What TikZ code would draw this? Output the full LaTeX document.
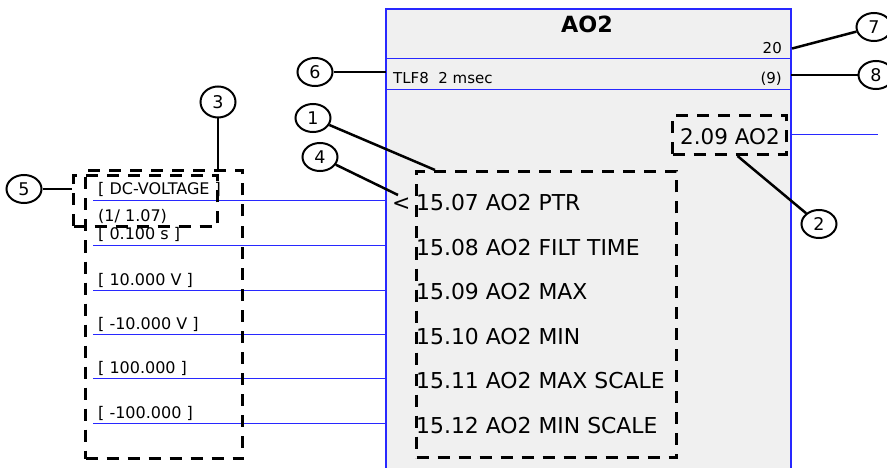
\documentclass[tikz,border=0pt]{standalone}
\usepackage{fontspec}
\setmainfont{DejaVu Sans}
\usetikzlibrary{shapes.geometric}
\definecolor{blockgray}{RGB}{240,240,240}
\definecolor{linkblue}{RGB}{40,40,255}
\tikzset{
  callout/.style={draw, ellipse, line width=2pt, minimum width=35pt, minimum height=28pt, inner sep=0pt, font=\fontsize{17.5}{17.5}\selectfont},
  marker/.style={line width=2.5pt},
  selbox/.style={draw, line width=3pt, dash pattern=on 12pt off 9pt, inner sep=0pt, anchor=north west},
  param/.style={inner sep=0pt, anchor=base west, font=\fontsize{21.9}{21.9}\selectfont},
  value/.style={inner sep=0pt, anchor=base west, font=\fontsize{16}{16}\selectfont},
  small/.style={inner sep=0pt, font=\fontsize{15}{15}\selectfont},
  wire/.style={linkblue, line width=1pt},
}

\begin{document}
\begin{tikzpicture}[x=1pt, y=-1pt]
  \useasboundingbox (0,0) rectangle (887,468);

  % function block
  \coordinate (blk) at (386,9);
  \coordinate (blkr) at (791,9);
  \fill[blockgray] (386,9) rectangle (791,472);
  \draw[linkblue, line width=1.5pt] (386,472) |- (791,9) -- (791,472);
  \draw[wire] (386,59) -- (791,59);
  \draw[wire] (386,90) -- (791,90);

  \node[anchor=base, inner sep=0pt, font=\bfseries\fontsize{22.3}{22.3}\selectfont] (title) at (587,33) {AO2};
  \node[small, anchor=base east] (nr) at (782,54) {20};
  \node[small, anchor=base west] (tl) at (393,84) {TLF8\ \ 2 msec};
  \node[small, anchor=base east] (ord) at (782,84) {(9)};

  % parameters
  \foreach \nr/\txt [count=\i from 0] in {07/PTR, 08/FILT TIME, 09/MAX, 10/MIN, 11/MAX SCALE, 12/MIN SCALE}
    \node[param] (p\nr) at (416,211+44.4*\i) {15.\nr\ AO2 \txt};
  \node[param] (lt) at (392,211) {<};
  \node[param, font=\fontsize{21.5}{21.5}\selectfont] (outval) at (680,145) {2.09 AO2};

  % values and wires
  \foreach \vy/\wy/\txt [count=\i] in {195/201/{[ DC-VOLTAGE ]}, 240/245/{[ 0.100 s ]}, 285/290/{[ 10.000 V ]}, 329/334/{[ -10.000 V ]}, 373/378/{[ 100.000 ]}, 418/423/{[ -100.000 ]}}{
    \node[value] (v\i) at (98,\vy) {\txt};
    \coordinate (w\i) at (93,\wy);
    \draw[wire] (w\i) -- (w\i -| blk);
  }
  \node[value] (scl) at (98,222) {(1/ 1.07)};
  \coordinate (out) at (878,135);
  \draw[wire] (out -| blkr) -- (out);

  % dashed selections
  \node[selbox, minimum width=260pt, minimum height=286pt] (sel1) at (415,170) {};
  \node[selbox, minimum width=114pt, minimum height=39pt] (sel2) at (671,114) {};
  \node[selbox, minimum width=157pt, minimum height=288pt] (sel3) at (84,169) {};
  \node[selbox, minimum width=144pt, minimum height=51pt] (sel5) at (72,174) {};

  % callouts
  \node[callout] (c1) at (313,118) {1};
  \node[callout] (c2) at (819,224) {2};
  \node[callout, minimum height=31pt] (c3) at (218,102) {3};
  \node[callout] (c4) at (320,157) {4};
  \node[callout] (c5) at (24,189) {5};
  \node[callout] (c6) at (315,72) {6};
  \node[callout] (c7) at (874,27) {7};
  \node[callout] (c8) at (876,75) {8};

  \coordinate (ltip) at (398,195);
  \draw[marker] (c1) -- ([xshift=20pt]sel1.north west);
  \draw[marker] (c2) -- ([xshift=8pt]sel2.south);
  \draw[marker] (c3) -- (sel3.north -| c3);
  \draw[marker] (c4) -- (ltip);
  \draw[marker] (c5) -- (c5 -| sel5.west);
  \draw[marker] (c6) -- (c6 -| blk);
  \draw[marker] (c7) -- ([xshift=10pt]nr.east);
  \draw[marker] (c8) -- (c8 -| blkr);
\end{tikzpicture}
\end{document}
